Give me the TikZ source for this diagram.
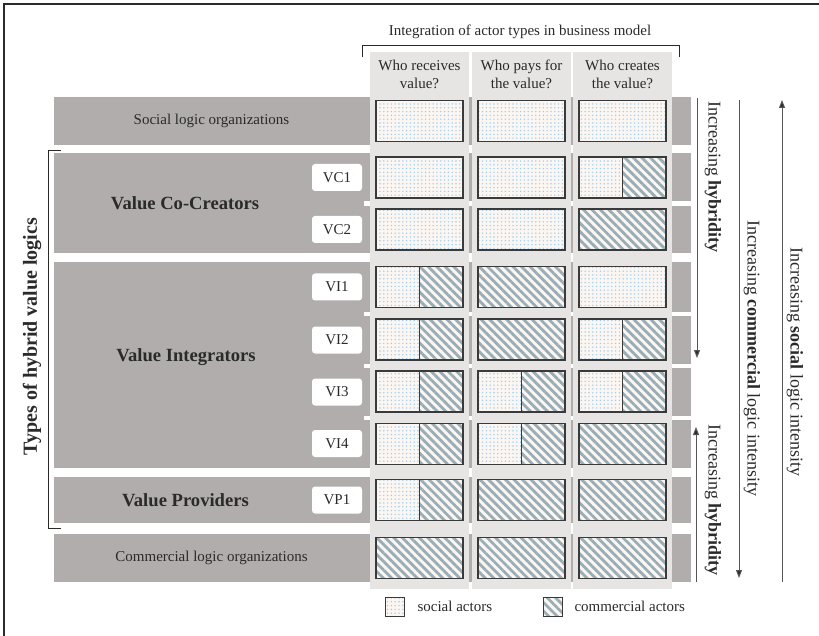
\documentclass[tikz,border=0pt]{standalone}
\usepackage{fontspec}
\setmainfont{Liberation Serif}
\usetikzlibrary{patterns.meta,arrows.meta}

\definecolor{bandgray}{HTML}{B1ADAC}
\definecolor{colgray}{HTML}{E7E5E4}
\definecolor{cellline}{HTML}{3A3A3A}
\definecolor{paper}{HTML}{FBF6F2}
\definecolor{dotblue}{HTML}{9FCFEE}
\definecolor{stripe}{HTML}{98ADB6}
\definecolor{ink}{HTML}{2A2A2A}
\definecolor{arrowgray}{HTML}{555555}

\tikzset{
  every node/.style={text=ink},
  txt/.style={font=\fontsize{15}{18}\selectfont},
  big/.style={font=\fontsize{18.6}{21}\selectfont\bfseries},
  side/.style={font=\fontsize{18}{21}\selectfont, rotate=-90, anchor=west, inner sep=0},
  head/.style={txt, align=center, inner sep=0},
  cell/.style={draw=cellline, line width=1.1pt, preaction={fill=paper}, minimum height=41pt, inner sep=0},
  soc/.style={cell, pattern={Dots[radius=0.8pt, distance=3.8pt]}, pattern color=dotblue},
  com/.style={cell, pattern={Lines[angle=-45, distance=6pt, line width=2.8pt]}, pattern color=stripe},
  full/.style={minimum width=87pt},
  half/.style={minimum width=43.5pt},
  tag/.style={txt, fill=white, rounded corners=3pt, minimum width=50pt, minimum height=27pt, inner sep=0},
  trend/.style={draw=arrowgray, line width=1pt, -{Triangle[length=8pt, width=6pt, fill=ink]}},
}

\begin{document}
\begin{tikzpicture}[x=1pt, y=-1pt]
    \useasboundingbox (0,0) rectangle (819,636);
    \draw[line width=1.5pt, ink] (4,636) -- (4,4) -- (819,4);

    % gray bands with gaps between the sub-rows
    \fill[bandgray] (54,97) rectangle (691,145);
    \fill[bandgray] (54,153) rectangle (691,253);
    \fill[bandgray] (54,262) rectangle (691,468);
    \fill[bandgray] (54,477) rectangle (691,523);
    \fill[bandgray] (54,534) rectangle (691,582);
    \fill[white] (364,201.5) rectangle (692,206);
    \fill[white] (364,311.5) rectangle (692,315.5);
    \fill[white] (364,363.5) rectangle (692,367.5);
    \fill[white] (364,415.5) rectangle (692,419.5);

    % columns
    \fill[colgray] (370,52) rectangle (469,589);
    \fill[colgray] (472,52) rectangle (571,589);
    \fill[colgray] (573,52) rectangle (672,589);

    \node[txt] (title) at (520,32) {Integration of actor types in business model};
    \draw[line width=0.8pt, ink] (362,57) -- (362,45) -- (679,45) -- (679,57);
    \node[head] (h1) at (419.5,74) {Who receives\\value?};
    \node[head] (h2) at (521.5,74) {Who pays for\\the value?};
    \node[head] (h3) at (622.5,74) {Who creates\\the value?};

    % row labels
    \node[txt] (socorg) at (211.5,121) {Social logic organizations};
    \node[txt] (comorg) at (211.5,558) {Commercial logic organizations};
    \node[big] (vcc) at (185,203) {Value Co-Creators};
    \node[big] (vin) at (186,357) {Value Integrators};
    \node[big] (vpr) at (185.5,500) {Value Providers};
    \node[tag] (vc1) at (337,177.5) {VC1};
    \node[tag] (vc2) at (337,229.5) {VC2};
    \node[tag] (vi1) at (337,287) {VI1};
    \node[tag] (vi2) at (337,340) {VI2};
    \node[tag] (vi3) at (337,392) {VI3};
    \node[tag] (vi4) at (337,443.5) {VI4};
    \node[tag] (vp1) at (337,500) {VP1};

    \draw[line width=0.8pt, ink] (61,150) -- (48,150) -- (48,528) -- (61,528);
    \node[font=\fontsize{20}{22}\selectfont\bfseries, rotate=90] (types) at (32,336.5) {Types of hybrid value logics};

    % cells: receives / pays / creates
    \node[soc, full] (s1) at (419.5,121) {};
    \node[soc, full] (s2) at (521.5,121) {};
    \node[soc, full] (s3) at (622.5,121) {};

    \node[soc, full] (vc1a) at (419.5,177.5) {};
    \node[soc, full] (vc1b) at (521.5,177.5) {};
    \node[soc, half] (vc1cs) at (600.75,177.5) {};
    \node[com, half] (vc1cc) at (644.25,177.5) {};

    \node[soc, full] (vc2a) at (419.5,229.5) {};
    \node[soc, full] (vc2b) at (521.5,229.5) {};
    \node[com, full] (vc2c) at (622.5,229.5) {};

    \node[soc, half] (vi1as) at (397.75,287) {};
    \node[com, half] (vi1ac) at (441.25,287) {};
    \node[com, full] (vi1b) at (521.5,287) {};
    \node[soc, full] (vi1c) at (622.5,287) {};

    \node[soc, half] (vi2as) at (397.75,339.5) {};
    \node[com, half] (vi2ac) at (441.25,339.5) {};
    \node[com, full] (vi2b) at (521.5,339.5) {};
    \node[soc, half] (vi2cs) at (600.75,339.5) {};
    \node[com, half] (vi2cc) at (644.25,339.5) {};

    \node[soc, half] (vi3as) at (397.75,391.5) {};
    \node[com, half] (vi3ac) at (441.25,391.5) {};
    \node[soc, half] (vi3bs) at (499.75,391.5) {};
    \node[com, half] (vi3bc) at (543.25,391.5) {};
    \node[soc, half] (vi3cs) at (600.75,391.5) {};
    \node[com, half] (vi3cc) at (644.25,391.5) {};

    \node[soc, half] (vi4as) at (397.75,444) {};
    \node[com, half] (vi4ac) at (441.25,444) {};
    \node[soc, half] (vi4bs) at (499.75,444) {};
    \node[com, half] (vi4bc) at (543.25,444) {};
    \node[com, full] (vi4c) at (622.5,444) {};

    \node[soc, half] (vp1as) at (397.75,500) {};
    \node[com, half] (vp1ac) at (441.25,500) {};
    \node[com, full] (vp1b) at (521.5,500) {};
    \node[com, full] (vp1c) at (622.5,500) {};

    \node[com, full] (c1) at (419.5,558) {};
    \node[com, full] (c2) at (521.5,558) {};
    \node[com, full] (c3) at (622.5,558) {};

    % trend arrows on the right
    \coordinate (hybAtop) at (697,98);
    \coordinate (hybAend) at (697,358);
    \coordinate (hybBbot) at (696,582);
    \coordinate (hybBend) at (696,427);
    \coordinate (comtop) at (739,100);
    \coordinate (comend) at (739,578);
    \coordinate (socbot) at (782,582);
    \coordinate (socend) at (782,100);
    \draw[trend] (hybAtop) -- (hybAend);
    \draw[trend] (hybBbot) -- (hybBend);
    \draw[trend] (comtop) -- (comend);
    \draw[trend] (socbot) -- (socend);
    \node[side] (hybA) at (713,101) {Increasing \textbf{hybridity}};
    \node[side] (hybB) at (713,424) {Increasing \textbf{hybridity}};
    \node[side] (comint) at (752,220) {Increasing \textbf{commercial} logic intensity};
    \node[side] (socint) at (795,247) {Increasing \textbf{social} logic intensity};

    % legend
    \node[soc, minimum width=19pt, minimum height=19pt, line width=0.8pt] (legs) at (395,606.5) {};
    \node[txt, anchor=west] (legstxt) at (414,606) {social actors};
    \node[com, minimum width=19pt, minimum height=19pt, line width=0.8pt] (legc) at (552.5,606.5) {};
    \node[txt, anchor=west] (legctxt) at (571,606) {commercial actors};
\end{tikzpicture}
\end{document}
